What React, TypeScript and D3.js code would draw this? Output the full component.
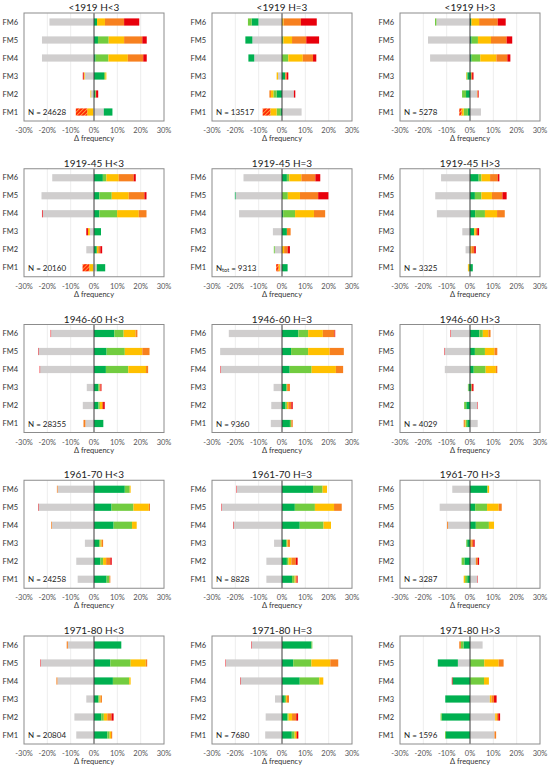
import React from "react";
import * as d3 from "d3";

type Seg = [string, number];

const categories = ["FM1", "FM2", "FM3", "FM4", "FM5", "FM6"];
const tickValues = [-30, -20, -10, 0, 10, 20, 30];
const rowTitles = ["<1919", "1919-45", "1946-60", "1961-70", "1971-80"];
const colTitles = ["H<3", "H=3", "H>3"];

const nLabels = [
  ["24628", "13517", "5278"],
  ["20160", "9313", "3325"],
  ["28355", "9360", "4029"],
  ["24258", "8828", "3287"],
  ["20804", "7680", "1596"],
];

// segments per category (FM1..FM6), each side listed from 0 outward; negative = left
const pA1: Seg[][] = [
  [["G", -0.3], ["Y", -2.6], ["H", -4.9], ["G", 4.2], ["DG", 3.7]],
  [["G", -1.2], ["Y", -0.3], ["DG", 0.7], ["Y", 0.2], ["R", 0.9]],
  [["G", -4.0], ["Y", -0.4], ["R", -0.4], ["DG", 4.3], ["LG", 0.6], ["Y", 0.4]],
  [["G", -22.3], ["DG", 0.7], ["LG", 5.5], ["Y", 8.3], ["O", 6.6], ["R", 1.5]],
  [["G", -22.3], ["DG", 1.7], ["LG", 4.6], ["Y", 6.6], ["O", 7.8], ["R", 1.9]],
  [["G", -19.1], ["DG", 1.3], ["Y", 3.4], ["O", 8.2], ["R", 6.5]],
];
const pA2: Seg[][] = [
  [["DG", -0.7], ["LG", -1.6], ["Y", -2.7], ["H", -3.3], ["G", 8.4]],
  [["DG", -2.3], ["LG", -1.4], ["Y", -1.0], ["O", -0.7], ["G", 5.1], ["R", 0.6]],
  [["G", -1.7], ["Y", -0.6], ["DG", 1.4], ["O", 0.6], ["R", 0.7]],
  [["G", -11.9], ["DG", -2.5], ["LG", 2.7], ["Y", 6.2], ["O", 4.4], ["R", 1.4]],
  [["G", -12.7], ["DG", -3.0], ["LG", 0.6], ["Y", 3.7], ["O", 6.1], ["R", 5.5]],
  [["G", -10.1], ["DG", -2.9], ["LG", -1.6], ["Y", 0.7], ["O", 7.4], ["R", 6.8]],
];
const pA3: Seg[][] = [
  [["DG", -0.9], ["LG", -1.8], ["Y", -0.9], ["H", -1.0], ["G", 4.7]],
  [["DG", -1.7], ["LG", -1.7], ["G", 3.1], ["O", 0.3], ["R", 0.3]],
  [["DG", -1.1], ["LG", -0.4], ["Y", -0.2], ["DG", 0.5], ["O", 0.4], ["R", 0.6]],
  [["G", -17.1], ["DG", 0.7], ["LG", 3.7], ["Y", 6.9], ["O", 4.7], ["R", 1.3]],
  [["G", -18.0], ["DG", 0.7], ["LG", 2.7], ["Y", 5.6], ["O", 6.7], ["R", 2.4]],
  [["G", -14.4], ["LG", -0.6], ["DG", 0.6], ["Y", 3.3], ["O", 8.0], ["R", 3.4]],
];
const pB1: Seg[][] = [
  [["G", -0.3], ["Y", -1.7], ["H", -2.9], ["G", 1.2], ["DG", 3.6]],
  [["G", -3.3], ["DG", 1.2], ["Y", 0.6], ["O", 0.9], ["R", 0.8]],
  [["G", -1.8], ["Y", -0.8], ["R", -0.7], ["DG", 3.0]],
  [["G", -22.0], ["R", -0.3], ["DG", 2.3], ["LG", 7.6], ["Y", 9.3], ["O", 3.3]],
  [["G", -22.5], ["DG", 2.3], ["LG", 5.3], ["Y", 7.3], ["O", 6.7], ["R", 0.9]],
  [["G", -17.9], ["DG", 3.8], ["LG", 1.5], ["Y", 5.3], ["O", 6.4], ["R", 0.9]],
];
const pB2: Seg[][] = [
  [["G", -0.9], ["Y", -0.6], ["H", -1.0], ["DG", 2.4]],
  [["G", -3.1], ["LG", -0.4], ["Y", 0.9], ["O", 1.5], ["R", 1.0]],
  [["G", -3.9], ["DG", 2.1], ["O", 1.6]],
  [["G", -18.4], ["DG", 0.5], ["LG", 5.1], ["Y", 8.1], ["O", 4.8]],
  [["G", -19.9], ["DG", -0.3], ["LG", 2.5], ["Y", 5.2], ["O", 7.8], ["R", 4.4]],
  [["G", -16.5], ["DG", 2.1], ["LG", 1.0], ["Y", 5.2], ["O", 6.0], ["R", 2.1]],
];
const pB3: Seg[][] = [
  [["LG", -0.5], ["Y", -0.4], ["DG", 1.2]],
  [["G", -1.9], ["Y", 0.6], ["O", 1.2], ["R", 0.7]],
  [["G", -3.3], ["DG", 1.8], ["Y", 0.7], ["O", 0.6], ["R", 0.8]],
  [["G", -14.2], ["DG", 2.2], ["LG", 4.2], ["Y", 5.2], ["O", 3.3]],
  [["G", -14.9], ["DG", 2.1], ["LG", 2.8], ["Y", 4.5], ["O", 4.5], ["R", 1.8]],
  [["G", -12.4], ["DG", 3.7], ["LG", 1.2], ["Y", 3.7], ["O", 3.3], ["R", 0.7]],
];
const pC1: Seg[][] = [
  [["G", -3.7], ["O", -0.8], ["DG", 4.0]],
  [["G", -4.8], ["DG", 1.9], ["LG", 0.6], ["Y", 0.9], ["O", 0.5], ["R", 0.7]],
  [["G", -3.1], ["DG", 1.9], ["LG", 0.5], ["O", 0.4], ["R", 0.4]],
  [["G", -23.1], ["R", -0.2], ["DG", 5.1], ["LG", 9.6], ["Y", 7.6], ["O", 0.9]],
  [["G", -23.8], ["R", -0.2], ["DG", 5.4], ["LG", 7.8], ["Y", 7.5], ["O", 3.1]],
  [["G", -18.4], ["R", -0.2], ["DG", 8.7], ["LG", 4.0], ["Y", 5.1], ["O", 0.8]],
];
const pC2: Seg[][] = [
  [["G", -4.8], ["DG", 3.4], ["LG", 0.6], ["O", 0.6]],
  [["G", -4.6], ["DG", 1.5], ["LG", 0.6], ["Y", 0.6], ["O", 1.3], ["R", 0.6]],
  [["G", -3.6], ["DG", 1.8], ["LG", 0.4], ["O", 1.2]],
  [["G", -26.2], ["R", -0.2], ["DG", 3.3], ["LG", 9.4], ["Y", 10.4], ["O", 3.1]],
  [["G", -26.5], ["DG", 3.9], ["LG", 7.3], ["Y", 9.2], ["O", 6.1]],
  [["G", -22.8], ["DG", 7.0], ["LG", 4.2], ["Y", 6.3], ["O", 5.0], ["R", 0.3]],
];
const pC3: Seg[][] = [
  [["DG", -1.2], ["LG", -0.7], ["Y", -0.3], ["O", -0.5], ["G", 3.3]],
  [["DG", -1.6], ["LG", -0.9], ["G", 3.1], ["R", 0.2]],
  [["DG", -0.6], ["LG", -0.3], ["DG", 0.6], ["O", 0.3], ["R", 0.6]],
  [["G", -10.8], ["DG", 1.6], ["LG", 5.1], ["Y", 4.4], ["O", 0.6]],
  [["G", -10.8], ["R", -0.2], ["DG", 2.1], ["LG", 4.3], ["Y", 4.1], ["O", 1.2]],
  [["G", -8.2], ["R", -0.2], ["DG", 4.0], ["LG", 1.5], ["Y", 2.4], ["O", 0.9]],
];
const pD1: Seg[][] = [
  [["G", -7.0], ["DG", 5.4], ["LG", 1.2], ["O", 0.4]],
  [["G", -7.6], ["DG", 2.8], ["LG", 1.1], ["Y", 1.3], ["O", 1.8], ["R", 0.6]],
  [["G", -3.9], ["DG", 2.2], ["LG", 0.6], ["Y", 0.5], ["O", 0.6]],
  [["G", -18.1], ["O", -0.3], ["DG", 8.4], ["LG", 7.9], ["Y", 2.0]],
  [["G", -23.8], ["R", -0.2], ["DG", 7.5], ["LG", 9.4], ["Y", 6.6], ["O", 0.5]],
  [["G", -15.6], ["O", -0.3], ["DG", 13.2], ["LG", 2.1], ["Y", 0.4]],
];
const pD2: Seg[][] = [
  [["G", -6.7], ["DG", 4.3], ["LG", 1.1], ["Y", 0.4], ["O", 0.5], ["R", 0.4]],
  [["G", -6.7], ["DG", 2.1], ["LG", 0.7], ["Y", 1.2], ["O", 1.9], ["R", 0.8]],
  [["G", -3.4], ["DG", 1.8], ["LG", 0.4], ["Y", 0.3], ["O", 0.9]],
  [["G", -20.8], ["R", -0.2], ["DG", 7.6], ["LG", 10.2], ["Y", 3.2]],
  [["G", -25.8], ["R", -0.2], ["DG", 5.5], ["LG", 8.6], ["Y", 8.2], ["O", 3.3]],
  [["G", -19.3], ["R", -0.2], ["DG", 13.3], ["LG", 4.1], ["Y", 1.9]],
];
const pD3: Seg[][] = [
  [["DG", -1.2], ["LG", -0.9], ["Y", -0.6], ["G", 3.1], ["R", 0.2]],
  [["DG", -2.4], ["LG", -1.2], ["G", 2.5], ["O", 0.8], ["R", 0.6]],
  [["DG", -1.2], ["LG", -0.4], ["Y", 0.6], ["O", 0.8], ["R", 0.6]],
  [["G", -9.4], ["O", -0.4], ["DG", 2.5], ["LG", 5.6], ["Y", 2.2]],
  [["G", -13.0], ["DG", 2.2], ["LG", 5.1], ["Y", 5.0], ["O", 1.3]],
  [["G", -7.6], ["DG", 7.5], ["Y", 0.7]],
];
const pE1: Seg[][] = [
  [["G", -7.6], ["DG", 5.7], ["LG", 1.0], ["Y", 0.6], ["O", 0.5]],
  [["G", -8.4], ["DG", 3.1], ["LG", 1.1], ["Y", 1.5], ["O", 1.8], ["R", 0.9]],
  [["G", -3.3], ["DG", 1.9], ["LG", 0.5], ["Y", 0.4], ["O", 0.6]],
  [["G", -15.7], ["O", -0.4], ["DG", 8.1], ["LG", 7.0], ["Y", 0.6]],
  [["G", -22.8], ["R", -0.2], ["DG", 7.0], ["LG", 8.7], ["Y", 6.5], ["O", 0.6]],
  [["G", -11.2], ["O", -0.5], ["DG", 11.7]],
];
const pE2: Seg[][] = [
  [["G", -7.2], ["DG", 4.2], ["LG", 1.2], ["Y", 0.6], ["O", 0.4], ["R", 0.6]],
  [["G", -7.0], ["DG", 2.2], ["LG", 0.6], ["Y", 1.5], ["O", 1.8], ["R", 0.8]],
  [["G", -3.0], ["DG", 1.2], ["LG", 0.5], ["Y", 0.4], ["O", 0.9]],
  [["G", -17.8], ["R", -0.2], ["DG", 7.6], ["LG", 8.4], ["Y", 1.7]],
  [["G", -24.0], ["R", -0.2], ["DG", 4.8], ["LG", 7.8], ["Y", 8.1], ["O", 3.4]],
  [["G", -13.0], ["R", -0.2], ["DG", 12.6], ["LG", 0.4]],
];
const pE3: Seg[][] = [
  [["DG", -10.3], ["LG", -0.4], ["G", 10.5], ["O", 0.7]],
  [["DG", -12.1], ["LG", -0.5], ["G", 10.8], ["Y", 0.7], ["O", 0.6], ["R", 0.8]],
  [["DG", -10.6], ["G", 8.5], ["Y", 0.7], ["O", 1.1], ["R", 1.1]],
  [["DG", -7.5], ["R", -0.3], ["LG", 6.0], ["Y", 2.1]],
  [["G", -5.2], ["DG", -8.6], ["LG", 6.1], ["Y", 6.2], ["O", 2.1]],
  [["DG", -2.8], ["LG", -1.1], ["O", -0.7], ["G", 5.4]],
];

const panels: Seg[][][][] = [
  [pA1, pA2, pA3],
  [pB1, pB2, pB3],
  [pC1, pC2, pC3],
  [pD1, pD2, pD3],
  [pE1, pE2, pE3],
];

const colors: Record<string, string> = {
  G: "#d0cece",
  DG: "#00b050",
  LG: "#72cc40",
  Y: "#ffc000",
  O: "#f7801f",
  R: "#e8000b",
  H: "url(#hatch)",
};

const FONT = "Lato, 'Open Sans', sans-serif";
const colLeft = [24, 212, 400];
const frameW = 140;
const frameH = 108;
const rowTop0 = 13;
const rowPitch = 155.75;

function Panel({ data, r, c }: { data: Seg[][]; r: number; c: number }) {
  const left = colLeft[c];
  const top = rowTop0 + r * rowPitch;
  const x = d3.scaleLinear().domain([-30, 30]).range([0, frameW]);
  const y = d3
    .scaleBand<string>()
    .domain([...categories].reverse())
    .range([0, frameH])
    .paddingInner(0.6)
    .paddingOuter(0.3);
  const bw = y.bandwidth();
  const title = `${rowTitles[r]} ${colTitles[c]}`;
  const n = nLabels[r][c];
  const isTot = r === 1 && c === 1;

  return (
    <g transform={`translate(${left},${top})`}>
      {tickValues
        .filter((t) => t !== 0 && Math.abs(t) !== 30)
        .map((t) => (
          <line key={t} x1={x(t)} x2={x(t)} y1={0} y2={frameH} stroke="#e8e8e8" strokeWidth={0.8} />
        ))}
      {data.map((segs, i) => {
        const cat = categories[i];
        let neg = 0;
        let pos = 0;
        return (
          <g key={cat}>
            {segs.map(([k, v], j) => {
              let a: number, b: number;
              if (v < 0) {
                a = neg + v;
                b = neg;
                neg += v;
              } else {
                a = pos;
                b = pos + v;
                pos += v;
              }
              return (
                <rect
                  key={j}
                  x={x(a)}
                  y={y(cat)!}
                  width={Math.max(0, x(b) - x(a))}
                  height={bw}
                  fill={colors[k]}
                />
              );
            })}
          </g>
        );
      })}
      <line x1={x(0)} x2={x(0)} y1={0} y2={frameH} stroke="#3a3a3a" strokeWidth={1} />
      <rect x={0} y={0} width={frameW} height={frameH} fill="none" stroke="#8c8c8c" strokeWidth={1} />
      {categories.map((cat) => (
        <text
          key={cat}
          x={-6}
          y={y(cat)! + bw / 2}
          textAnchor="end"
          dominantBaseline="central"
          fontSize={7.5}
          fill="#333"
        >
          {cat}
        </text>
      ))}
      {tickValues.map((t) => (
        <text key={t} x={x(t)} y={frameH + 9.5} textAnchor="middle" dominantBaseline="central" fontSize={7.5} fill="#555">
          {`${t}%`}
        </text>
      ))}
      <text x={x(0)} y={frameH + 17.5} textAnchor="middle" dominantBaseline="central" fontSize={7.5} fill="#333">
        Δ frequency
      </text>
      <text x={frameW / 2} y={-6} textAnchor="middle" dominantBaseline="central" fontSize={10} fill="#222">
        {title}
      </text>
      <text x={4} y={y("FM1")! + bw / 2} dominantBaseline="central" fontSize={8} fill="#222">
        {isTot ? (
          <>
            N<tspan fontSize={5.5} dy={2}>tot</tspan>
            <tspan dy={-2}>{` = ${n}`}</tspan>
          </>
        ) : (
          `N = ${n}`
        )}
      </text>
    </g>
  );
}

export default function App() {
  return (
    <div style={{ position: "absolute", left: 0, top: 0 }}>
      <svg width={550} height={770} style={{ display: "block", fontFamily: FONT, background: "#fff" }}>
        <defs>
          <pattern id="hatch" patternUnits="userSpaceOnUse" width={2.8} height={2.8} patternTransform="rotate(45)">
            <rect width={2.8} height={2.8} fill="#ff1a00" />
            <rect width={1.1} height={2.8} fill="#ff9a3c" />
          </pattern>
        </defs>
        {panels.map((row, r) => row.map((data, c) => <Panel key={`${r}-${c}`} data={data} r={r} c={c} />))}
      </svg>
    </div>
  );
}
